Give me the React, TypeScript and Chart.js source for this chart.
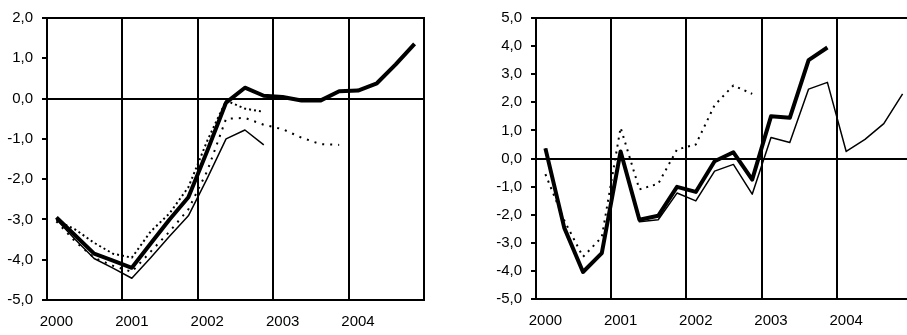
import React, { useEffect, useRef } from 'react';
import { Chart, registerables } from 'chart.js';

Chart.register(...registerables);

// 20 quarters, 2000Q1 .. 2004Q4
const quarters = [
  '2000Q1', '2000Q2', '2000Q3', '2000Q4',
  '2001Q1', '2001Q2', '2001Q3', '2001Q4',
  '2002Q1', '2002Q2', '2002Q3', '2002Q4',
  '2003Q1', '2003Q2', '2003Q3', '2003Q4',
  '2004Q1', '2004Q2', '2004Q3', '2004Q4',
];
const yearLabels = ['2000', '2001', '2002', '2003', '2004'];

// Left panel
const leftThick = [-2.95, -3.4, -3.85, -4.02, -4.2, -3.6, -3.0, -2.45, -1.3, -0.1, 0.27, 0.07, 0.04, -0.05, -0.05, 0.18, 0.2, 0.38, 0.85, 1.36];
const leftThin = [-3.0, -3.5, -3.97, -4.21, -4.46, -3.95, -3.42, -2.91, -1.98, -1.0, -0.78, -1.15];
const leftDotA = [-3.02, -3.25, -3.58, -3.85, -3.95, -3.3, -2.85, -2.2, -1.05, -0.05, -0.25, -0.33];
const leftDotB = [-3.05, -3.55, -3.95, -4.15, -4.3, -3.8, -3.3, -2.75, -1.8, -0.5, -0.48, -0.65, -0.76, -0.97, -1.13, -1.15];

// Right panel
const rightThick = [0.36, -2.46, -4.04, -3.37, 0.25, -2.18, -2.04, -1.01, -1.19, -0.1, 0.22, -0.75, 1.5, 1.45, 3.5, 3.95];
const rightThin = [0.36, -2.5, -4.0, -3.35, 0.2, -2.25, -2.18, -1.23, -1.51, -0.45, -0.21, -1.27, 0.75, 0.57, 2.47, 2.71, 0.25, 0.68, 1.24, 2.3];
const rightDot = [-0.56, -2.2, -3.5, -2.8, 1.1, -1.1, -0.9, 0.32, 0.5, 1.9, 2.6, 2.3];

const leftRange = { min: -5, max: 2 };
const rightRange = { min: -5, max: 5 };

const FONT = { family: '"Liberation Sans", Arial, sans-serif', size: 15 };

const framePlugin = {
  id: 'frame',
  afterDraw(chart: any) {
    const { ctx, chartArea } = chart;
    ctx.save();
    ctx.strokeStyle = '#000';
    ctx.lineWidth = 2;
    ctx.strokeRect(chartArea.left, chartArea.top, chartArea.right - chartArea.left, chartArea.bottom - chartArea.top);
    ctx.restore();
  },
};

type Series = { data: (number | null)[]; width: number; dash: number[] };

function Panel(props: {
  left: number; width: number; yWidth: number; xHeight: number; padRight: number;
  range: { min: number; max: number }; series: Series[];
}) {
  const ref = useRef<HTMLCanvasElement | null>(null);
  useEffect(() => {
    if (!ref.current) return;
    const chart = new Chart(ref.current, {
      type: 'line',
      data: {
        labels: quarters,
        datasets: props.series.map((s) => ({
          data: s.data,
          borderColor: '#000',
          borderWidth: s.width,
          borderDash: s.dash,
          borderCapStyle: 'butt',
          borderJoinStyle: 'round',
          pointRadius: 0,
          tension: 0,
          fill: false,
          spanGaps: false,
        })),
      },
      options: {
        animation: false,
        responsive: false,
        devicePixelRatio: 1,
        layout: { padding: { top: 15, right: props.padRight, bottom: 0, left: 0 } },
        plugins: { legend: { display: false }, tooltip: { enabled: false } },
        scales: {
          x: {
            type: 'category',
            offset: true,
            border: { display: false },
            grid: {
              offset: true,
              drawTicks: false,
              lineWidth: 2,
              color: (ctx: any) => (ctx.index % 4 === 0 ? '#000' : 'rgba(0,0,0,0)'),
            },
            ticks: {
              autoSkip: false,
              maxRotation: 0,
              minRotation: 0,
              padding: 13,
              color: '#000',
              font: FONT,
              callback: (_v: any, i: number) => (i % 4 === 0 ? yearLabels[i / 4] : ''),
            },
            afterFit: (scale: any) => { scale.height = props.xHeight; },
          },
          y: {
            min: props.range.min,
            max: props.range.max,
            border: { display: false },
            grid: {
              drawTicks: true,
              tickLength: 5,
              tickWidth: 2,
              tickColor: '#000',
              lineWidth: 2,
              color: (ctx: any) => (ctx.tick && ctx.tick.value === 0 ? '#000' : 'rgba(0,0,0,0)'),
            },
            ticks: {
              stepSize: 1,
              padding: 9,
              color: '#000',
              font: FONT,
              callback: (v: any) => Number(v).toFixed(1).replace('.', ','),
            },
            afterFit: (scale: any) => { scale.width = props.yWidth; },
          },
        },
      },
      plugins: [framePlugin],
    } as any);
    return () => chart.destroy();
  }, []);
  return (
    <canvas
      ref={ref}
      width={props.width}
      height={335}
      style={{ position: 'absolute', left: props.left, top: 0, width: props.width, height: 335 }}
    />
  );
}

export default function App() {
  return (
    <div style={{ position: 'fixed', left: 0, top: 0, width: 907, height: 335, overflow: 'hidden', background: '#fff' }}>
      <Panel
        left={0} width={440} yWidth={47} xHeight={35} padRight={16} range={leftRange}
        series={[
          { data: leftDotA, width: 2, dash: [2, 3] },
          { data: leftDotB, width: 2, dash: [2, 6] },
          { data: leftThin, width: 1.5, dash: [] },
          { data: leftThick, width: 4, dash: [] },
        ]}
      />
      <Panel
        left={455} width={470} yWidth={81} xHeight={36} padRight={13} range={rightRange}
        series={[
          { data: rightDot, width: 2, dash: [2, 5] },
          { data: rightThin, width: 1.5, dash: [] },
          { data: rightThick, width: 4, dash: [] },
        ]}
      />
    </div>
  );
}
